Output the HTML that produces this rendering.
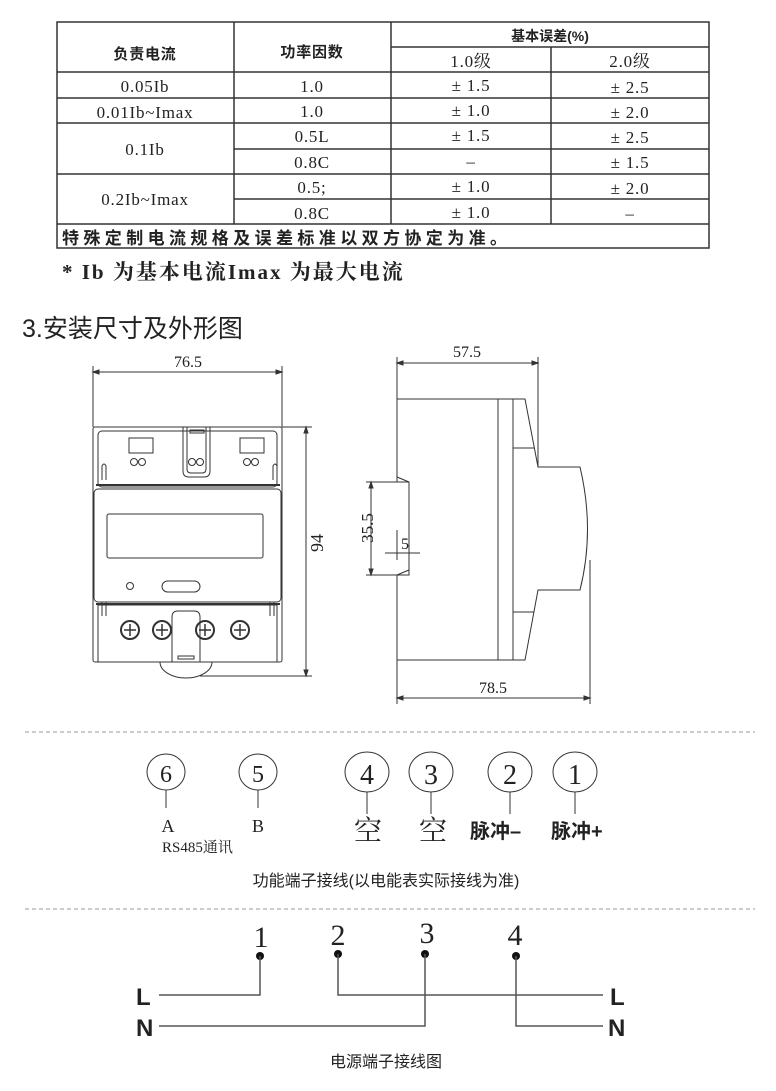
<!DOCTYPE html>
<html><head><meta charset="utf-8"><style>
html,body{margin:0;padding:0;background:#fff;}
body{width:776px;height:1091px;overflow:hidden;position:relative;}
svg{position:absolute;left:0;top:0;}
text{fill:#222;}
.s{font-family:"Liberation Serif","Noto Serif CJK SC",serif;}
.c{font-family:"Liberation Sans","Noto Sans CJK SC",sans-serif;}
</style></head><body>
<svg width="776" height="1091" viewBox="0 0 776 1091" xmlns="http://www.w3.org/2000/svg">
<!-- TABLE -->
<g stroke="#333" stroke-width="1.5" fill="none">
<rect x="57" y="22" width="652" height="226"/>
<line x1="234" y1="22" x2="234" y2="224"/>
<line x1="391" y1="22" x2="391" y2="224"/>
<line x1="551" y1="47" x2="551" y2="224"/>
<line x1="391" y1="47" x2="709" y2="47"/>
<line x1="57" y1="72" x2="709" y2="72"/>
<line x1="57" y1="98" x2="709" y2="98"/>
<line x1="57" y1="123" x2="709" y2="123"/>
<line x1="234" y1="149" x2="709" y2="149"/>
<line x1="57" y1="174" x2="709" y2="174"/>
<line x1="234" y1="199" x2="709" y2="199"/>
<line x1="57" y1="224" x2="709" y2="224"/>
</g>
<g class="s" font-size="17" text-anchor="middle" letter-spacing="0.8">
<text x="145" y="59" class="c" font-size="15" font-weight="bold" fill="#333">负责电流</text>
<text x="312" y="57" class="c" font-size="15" font-weight="bold">功率因数</text>
<text x="550" y="41" class="c" font-size="14" font-weight="bold" letter-spacing="0">基本误差(%)</text>
<text x="471" y="67">1.0级</text><text x="630" y="67">2.0级</text>
<text x="145" y="92">0.05Ib</text><text x="312" y="92">1.0</text><text x="471" y="91">± 1.5</text><text x="630" y="93">± 2.5</text>
<text x="145" y="118">0.01Ib~Imax</text><text x="312" y="117">1.0</text><text x="471" y="116">± 1.0</text><text x="630" y="118">± 2.0</text>
<text x="145" y="155">0.1Ib</text><text x="312" y="142">0.5L</text><text x="471" y="141">± 1.5</text><text x="630" y="143">± 2.5</text>
<text x="312" y="168">0.8C</text><text x="471" y="167">–</text><text x="630" y="168">± 1.5</text>
<text x="145" y="205">0.2Ib~Imax</text><text x="312" y="193">0.5;</text><text x="471" y="192">± 1.0</text><text x="630" y="194">± 2.0</text>
<text x="312" y="219">0.8C</text><text x="471" y="218">± 1.0</text><text x="630" y="219">–</text>
</g>
<text x="62" y="244" class="c" font-size="17" font-weight="bold" letter-spacing="4.4">特殊定制电流规格及误差标准以双方协定为准。</text>
<text x="62" y="279" class="s" font-size="21" font-weight="bold" letter-spacing="2">*  Ib 为基本电流Imax  为最大电流</text>
<text x="22" y="337" class="c" font-size="25">3.安装尺寸及外形图</text>

<!-- FRONT VIEW -->
<g stroke="#333" stroke-width="1" fill="none">
<line x1="93" y1="366" x2="93" y2="427"/><line x1="282" y1="366" x2="282" y2="427"/>
<line x1="93" y1="372" x2="282" y2="372"/>
<path d="M93 372 l6 -2 v4 z M282 372 l-6 -2 v4 z" fill="#333"/>
<line x1="282" y1="427" x2="312" y2="427"/><line x1="200" y1="676" x2="312" y2="676"/>
<line x1="306" y1="427" x2="306" y2="676"/>
<path d="M306 427 l-2 6 h4 z M306 676 l-2 -6 h4 z" fill="#333"/>
<rect x="93" y="427" width="189" height="235" rx="2"/>
<rect x="98" y="431" width="179" height="56" rx="4"/>
<line x1="96" y1="485" x2="280" y2="485" stroke-width="2"/>
<rect x="129" y="438" width="24" height="15"/><rect x="240" y="438" width="24" height="15"/>
<circle cx="134" cy="462" r="3.5"/><circle cx="142" cy="462" r="3.5"/>
<circle cx="192" cy="462" r="3.5"/><circle cx="200" cy="462" r="3.5"/>
<circle cx="247" cy="462" r="3.5"/><circle cx="255" cy="462" r="3.5"/>
<path d="M183 427 v44 q0 6 6 6 h15 q6 0 6 -6 v-44"/><path d="M187 427 v42 q0 4 4 4 h11 q4 0 4 -4 v-42"/>
<rect x="190" y="430" width="14" height="3"/>
<path d="M102 480 v-14 q2 -4 4 0 v14"/><path d="M273 480 v-14 q2 -4 4 0 v14"/>
<rect x="94" y="489" width="187" height="113" rx="4"/>
<rect x="107" y="514" width="156" height="44" rx="2"/>
<circle cx="130" cy="586" r="3.5"/>
<rect x="162" y="581" width="38" height="11" rx="5.5"/>
<rect x="98" y="605" width="179" height="57"/>
<line x1="96" y1="604" x2="280" y2="604" stroke-width="2"/>
<path d="M102 616 v-14 M106 616 v-14 M270 616 v-14 M274 616 v-14"/>
<path d="M172 662 v-45 q0 -6 6 -6 h16 q6 0 6 6 v45"/><rect x="178" y="656" width="16" height="3"/>
<path d="M160 662 a26 16 0 0 0 52 0"/>
</g>
<g stroke="#333" stroke-width="2" fill="none">
<circle cx="130" cy="630" r="9"/><circle cx="162" cy="630" r="9"/><circle cx="205" cy="630" r="9"/><circle cx="240" cy="630" r="9"/>
</g>
<g stroke="#333" stroke-width="1.5">
<path d="M124 630 h12 M130 624 v12 M156 630 h12 M162 624 v12 M199 630 h12 M205 624 v12 M234 630 h12 M240 624 v12"/>
</g>
<text x="188" y="367" class="s" font-size="16" text-anchor="middle">76.5</text>
<text x="0" y="0" class="s" font-size="18" text-anchor="middle" transform="translate(323 543) rotate(-90)">94</text>

<!-- SIDE VIEW -->
<g stroke="#333" stroke-width="1" fill="none">
<path d="M397 399 H525 L538 467 H580 Q595 530 580 590 H538 L525 660 H397 V575 H409 V482 H397 Z"/>
<line x1="498" y1="399" x2="498" y2="660"/>
<line x1="513" y1="399" x2="513" y2="660"/>
<path d="M513 448 H534 M513 612 H534"/>
<path d="M397 477 L409 482"/><path d="M397 575 L409 570"/>
<line x1="397" y1="357" x2="397" y2="399"/><line x1="538" y1="357" x2="538" y2="467"/>
<line x1="397" y1="363" x2="538" y2="363"/>
<path d="M397 363 l6 -2 v4 z M538 363 l-6 -2 v4 z" fill="#333"/>
<line x1="397" y1="660" x2="397" y2="704"/><line x1="590" y1="560" x2="590" y2="704"/>
<line x1="397" y1="698" x2="590" y2="698"/>
<path d="M397 698 l6 -2 v4 z M590 698 l-6 -2 v4 z" fill="#333"/>
<line x1="366" y1="482" x2="409" y2="482"/><line x1="366" y1="575" x2="397" y2="575"/>
<line x1="371" y1="482" x2="371" y2="575"/>
<path d="M371 482 l-2 6 h4 z M371 575 l-2 -6 h4 z" fill="#333"/>
<line x1="397" y1="530" x2="397" y2="560"/><line x1="409" y1="530" x2="409" y2="560"/>
<line x1="385" y1="553" x2="420" y2="553"/>
</g>
<text x="467" y="357" class="s" font-size="16" text-anchor="middle">57.5</text>
<text x="493" y="693" class="s" font-size="16" text-anchor="middle">78.5</text>
<text x="0" y="0" class="s" font-size="17" text-anchor="middle" transform="translate(373 528) rotate(-90)">35.5</text>
<text x="401" y="549" class="s" font-size="16">5</text>

<!-- dashed separators -->
<line x1="25" y1="732" x2="755" y2="732" stroke="#999" stroke-dasharray="4 3"/>
<line x1="25" y1="909" x2="755" y2="909" stroke="#999" stroke-dasharray="4 3"/>

<!-- FUNCTION TERMINALS -->
<g stroke="#333" stroke-width="1" fill="none">
<ellipse cx="166" cy="772" rx="19" ry="18"/><ellipse cx="258" cy="772" rx="19" ry="18"/>
<ellipse cx="367" cy="772" rx="22" ry="20"/><ellipse cx="431" cy="772" rx="22" ry="20"/>
<ellipse cx="510" cy="772" rx="22" ry="20"/><ellipse cx="575" cy="772" rx="22" ry="20"/>
<path d="M166 790 v18 M258 790 v18 M367 792 v22 M431 792 v22 M510 792 v22 M575 792 v22"/>
</g>
<g class="s" text-anchor="middle" font-size="24">
<text x="166" y="782">6</text><text x="258" y="782">5</text>
<text x="367" y="784" font-size="28">4</text><text x="431" y="784" font-size="28">3</text>
<text x="510" y="784" font-size="28">2</text><text x="575" y="784" font-size="28">1</text>
<text x="168" y="832" font-size="18">A</text><text x="258" y="832" font-size="18">B</text>
<text x="368" y="840" font-size="28">空</text><text x="433" y="840" font-size="28">空</text>
</g>
<text x="470" y="838" class="c" font-size="20" font-weight="bold">脉冲–</text>
<text x="551" y="838" class="c" font-size="20" font-weight="bold">脉冲+</text>
<text x="162" y="852" class="s" font-size="15">RS485通讯</text>
<text x="386" y="886" class="c" font-size="16" text-anchor="middle">功能端子接线(以电能表实际接线为准)</text>

<!-- POWER TERMINALS -->
<g class="s" text-anchor="middle" font-size="30">
<text x="261" y="947">1</text><text x="338" y="945">2</text><text x="427" y="943">3</text><text x="515" y="945">4</text>
</g>
<g fill="#111"><circle cx="260" cy="956" r="4"/><circle cx="338" cy="954" r="4"/><circle cx="425" cy="954" r="4"/><circle cx="516" cy="956" r="4"/></g>
<g stroke="#555" stroke-width="1.5" fill="none">
<path d="M159 995 H260 V956"/><path d="M338 954 V995 H603"/>
<path d="M159 1026 H425 V954"/><path d="M516 956 V1026 H603"/>
</g>
<g class="c" font-size="24" font-weight="bold">
<text x="136" y="1005">L</text><text x="136" y="1036">N</text>
<text x="610" y="1005">L</text><text x="608" y="1036">N</text>
</g>
<text x="386" y="1067" class="c" font-size="16" text-anchor="middle">电源端子接线图</text>
</svg>
</body></html>
